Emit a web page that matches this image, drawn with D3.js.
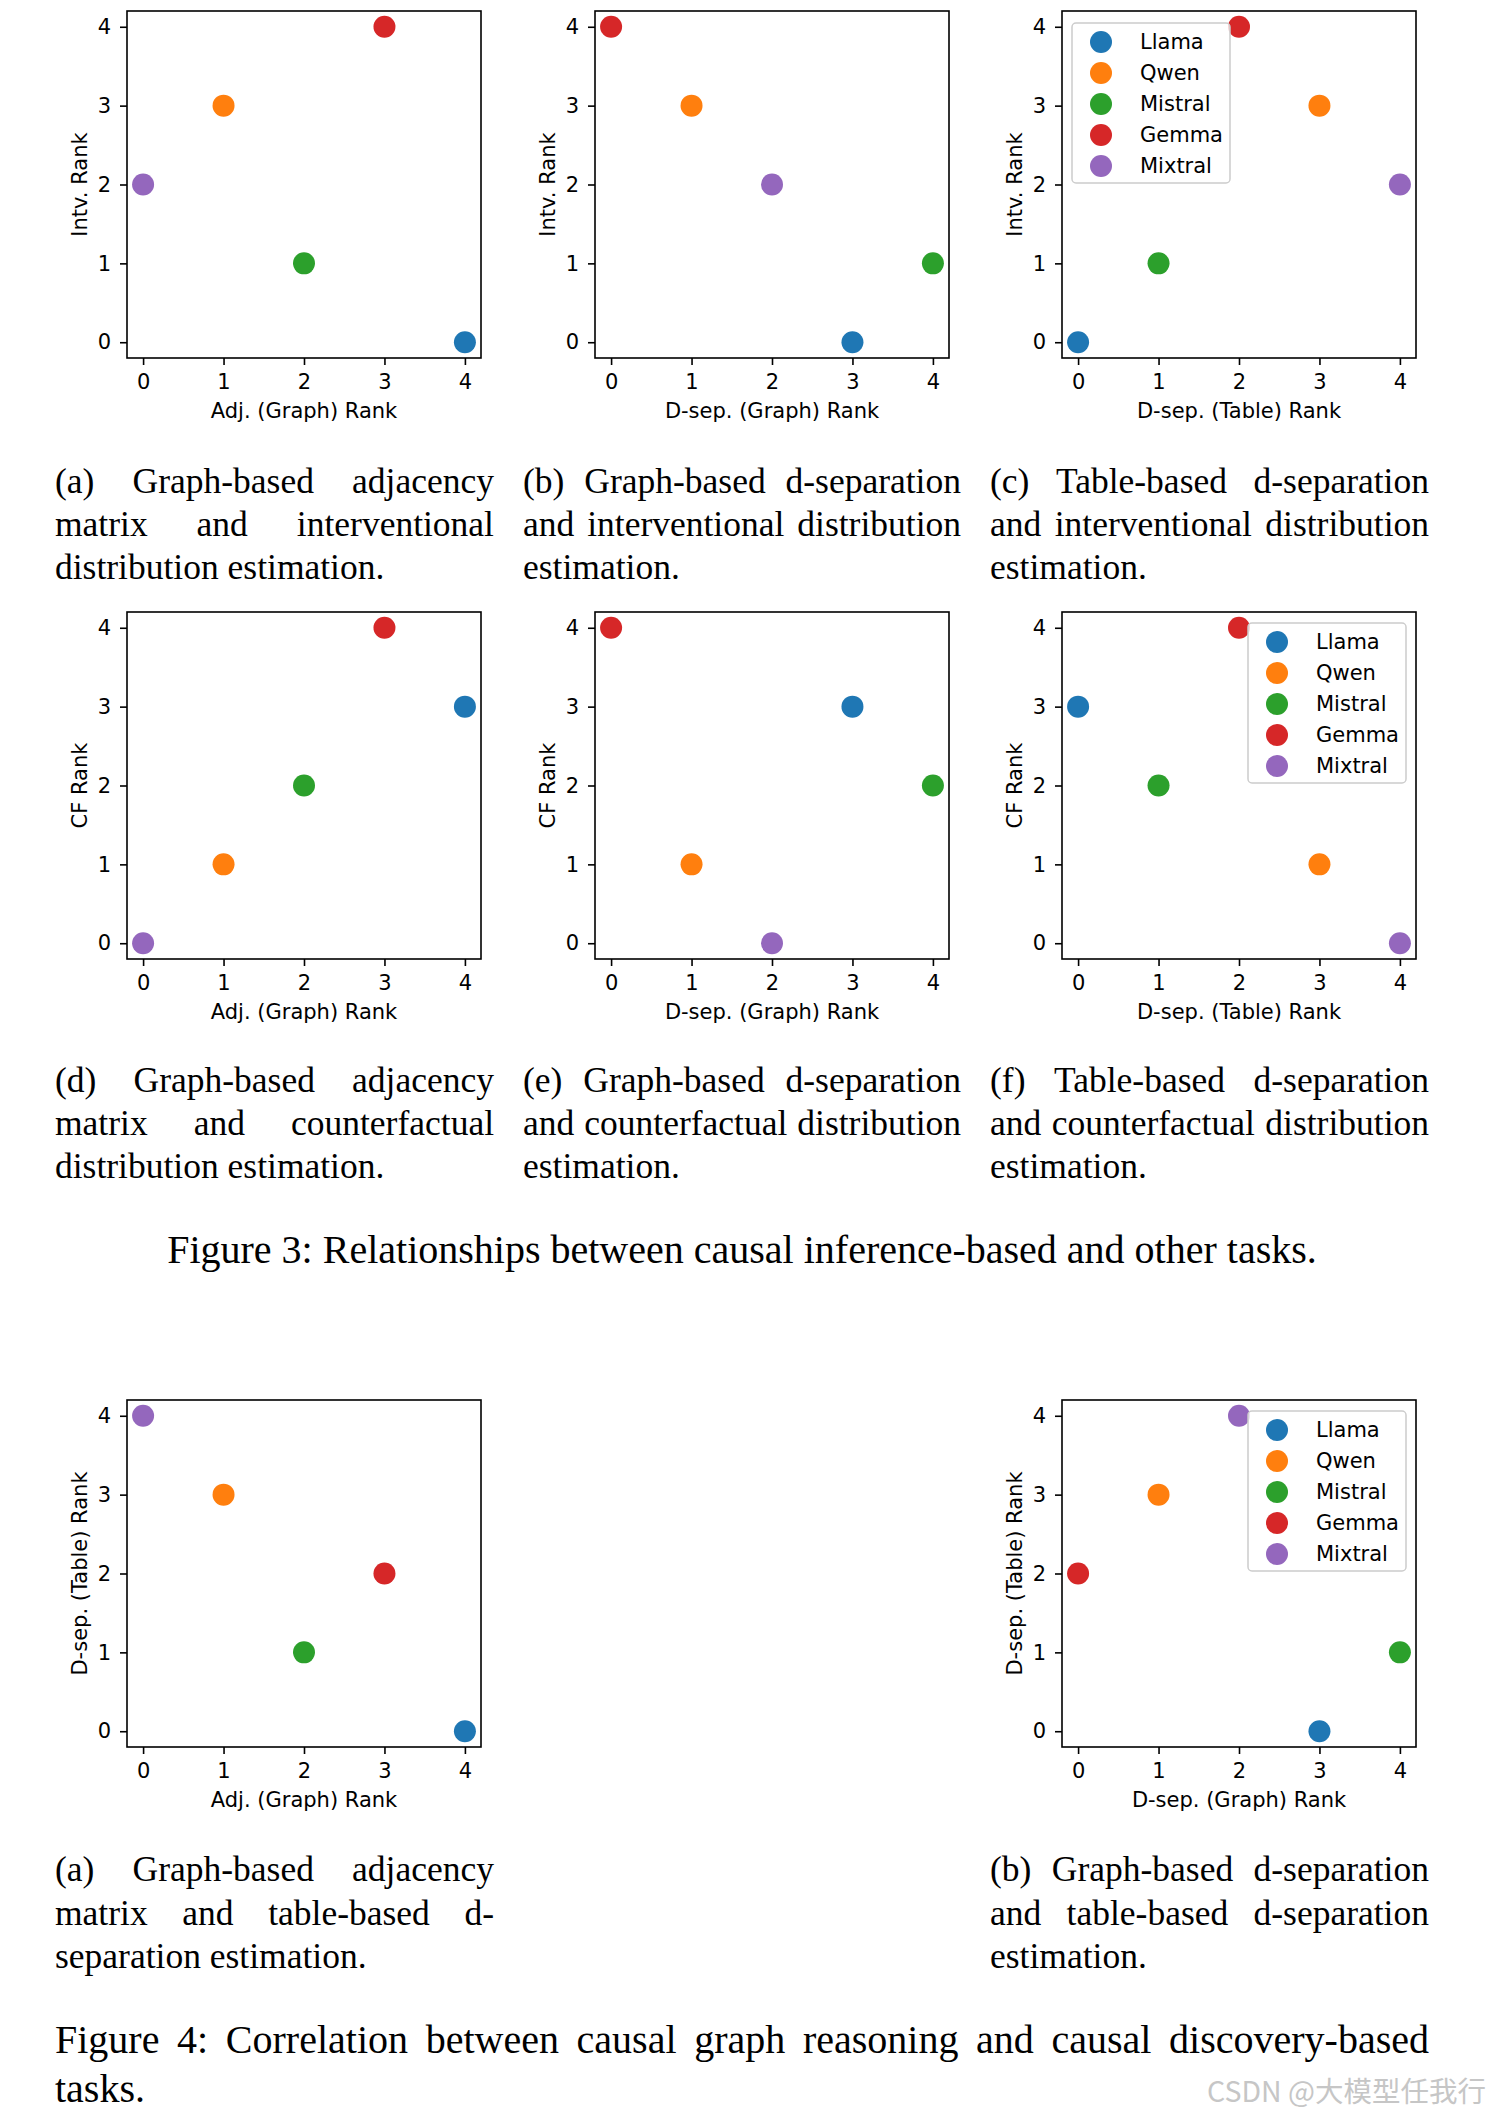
<!DOCTYPE html>
<html>
<head>
<meta charset="utf-8">
<script src="https://cdn.jsdelivr.net/npm/d3@7/dist/d3.min.js"></script>
<style>
  body { margin: 0; background: #fff; }
  svg { display: block; }
</style>
</head>
<body>
<div id="fig"></div>
<script>
// ---- data ----
const models = ["Llama", "Qwen", "Mistral", "Gemma", "Mixtral"];
const colors = ["#1f77b4", "#ff7f0e", "#2ca02c", "#d62728", "#9467bd"];
const rankTicks = [0, 1, 2, 3, 4];

const adjGraphRank = [4, 1, 2, 3, 0];
const dsepGraphRank = [3, 1, 4, 0, 2];
const dsepTableRank = [0, 3, 1, 2, 4];
const intvRank = [0, 3, 1, 4, 2];
const cfRank = [3, 1, 2, 4, 0];

const captionA1 = ["(a) Graph-based adjacency", "matrix and interventional", "distribution estimation."];
const captionB1 = ["(b) Graph-based d-separation", "and interventional distribution", "estimation."];
const captionC1 = ["(c) Table-based d-separation", "and interventional distribution", "estimation."];
const captionD2 = ["(d) Graph-based adjacency", "matrix and counterfactual", "distribution estimation."];
const captionE2 = ["(e) Graph-based d-separation", "and counterfactual distribution", "estimation."];
const captionF2 = ["(f) Table-based d-separation", "and counterfactual distribution", "estimation."];
const captionA3 = ["(a) Graph-based adjacency", "matrix and table-based d-", "separation estimation."];
const captionB3 = ["(b) Graph-based d-separation", "and table-based d-separation", "estimation."];
const figure3Caption = "Figure 3: Relationships between causal inference-based and other tasks.";
const figure4Caption = ["Figure 4: Correlation between causal graph reasoning and causal discovery-based", "tasks."];
const watermark = "CSDN @大模型任我行";

// ---- layout ----
const W = 1489, H = 2118;
const plotW = 354, plotH = 347;
const colLeft = [127, 595, 1062];
const rowTop = [11, 612, 1400];
const capCol = [[55, 494], [523, 961], [990, 1429]];
const SANS = "'DejaVu Sans', sans-serif";
const SERIF = "'Liberation Serif', 'Times New Roman', serif";
const sansSize = 21;
const subCapSize = 35.5;
const figCapSize = 40;

const svg = d3.select("#fig").append("svg")
  .attr("width", W).attr("height", H)
  .attr("viewBox", [0, 0, W, H]);
svg.append("rect").attr("width", W).attr("height", H).attr("fill", "#fff");

const x = d3.scaleLinear().domain([-0.2, 4.2]).range([0, plotW]);
const y = d3.scaleLinear().domain([-0.2, 4.2]).range([plotH, 0]);

function scatter(left, top, xs, ys, xLabel, yLabel, legendPos) {
  const g = svg.append("g").attr("transform", `translate(${left},${top})`);

  const xAxis = g.append("g")
    .attr("transform", `translate(0,${plotH})`)
    .call(d3.axisBottom(x).tickValues(rankTicks).tickFormat(d3.format("d"))
      .tickSize(7).tickSizeOuter(0).tickPadding(9));
  const yAxis = g.append("g")
    .call(d3.axisLeft(y).tickValues(rankTicks).tickFormat(d3.format("d"))
      .tickSize(7).tickSizeOuter(0).tickPadding(9));
  [xAxis, yAxis].forEach(a => {
    a.select(".domain").remove();
    a.attr("font-family", SANS).attr("font-size", sansSize);
    a.selectAll("line").attr("stroke", "#000").attr("stroke-width", 1.6);
    a.selectAll("text").attr("fill", "#000");
  });

  g.append("rect")
    .attr("width", plotW).attr("height", plotH)
    .attr("fill", "none").attr("stroke", "#000").attr("stroke-width", 1.6);

  g.append("text")
    .attr("x", plotW / 2).attr("y", 407)
    .attr("text-anchor", "middle")
    .attr("font-family", SANS).attr("font-size", sansSize)
    .text(xLabel);

  // y label: baseline sits 40px left of the frame
  g.append("text")
    .attr("transform", `translate(-40,${plotH / 2}) rotate(-90)`)
    .attr("text-anchor", "middle")
    .attr("font-family", SANS).attr("font-size", sansSize)
    .text(yLabel);

  g.append("g").selectAll("circle")
    .data(models)
    .join("circle")
    .attr("cx", (d, i) => x(xs[i]))
    .attr("cy", (d, i) => y(ys[i]))
    .attr("r", 11)
    .attr("fill", (d, i) => colors[i]);

  if (legendPos) {
    const lw = 158, lh = 160;
    const lx = legendPos === "left" ? 10 : plotW - 10 - lw;
    const ly = legendPos === "left" ? 12 : 11;
    const lg = g.append("g").attr("transform", `translate(${lx},${ly})`);
    lg.append("rect")
      .attr("width", lw).attr("height", lh).attr("rx", 4)
      .attr("fill", "#fff").attr("fill-opacity", 0.8)
      .attr("stroke", "#cccccc").attr("stroke-width", 1.5);
    const item = lg.selectAll("g.item")
      .data(models)
      .join("g")
      .attr("class", "item")
      .attr("transform", (d, i) => `translate(0,${19 + i * 31})`);
    item.append("circle").attr("cx", 29).attr("r", 11).attr("fill", (d, i) => colors[i]);
    item.append("text")
      .attr("x", 68).attr("dy", "0.35em")
      .attr("font-family", SANS).attr("font-size", sansSize)
      .text(d => d);
  }
}

// ---- justified captions ----
const measurer = svg.append("text")
  .attr("font-family", SERIF).attr("visibility", "hidden");
function wordWidth(w, size) {
  measurer.attr("font-size", size).text(w);
  return measurer.node().getComputedTextLength();
}

function justifiedLines(lines, x0, x1, baseline, lineGap, size) {
  lines.forEach((line, li) => {
    const words = line.split(" ");
    const widths = words.map(w => wordWidth(w, size));
    const total = d3.sum(widths);
    const last = li === lines.length - 1;
    const gap = (!last && words.length > 1) ? (x1 - x0 - total) / (words.length - 1) : size * 0.25;
    let cx = x0;
    const t = svg.append("g");
    words.forEach((w, i) => {
      t.append("text")
        .attr("x", cx).attr("y", baseline + li * lineGap)
        .attr("font-family", SERIF).attr("font-size", size).attr("fill", "#000")
        .text(w);
      cx += widths[i] + gap;
    });
  });
}

// ---- Figure 3 ----
scatter(colLeft[0], rowTop[0], adjGraphRank, intvRank, "Adj. (Graph) Rank", "Intv. Rank");
scatter(colLeft[1], rowTop[0], dsepGraphRank, intvRank, "D-sep. (Graph) Rank", "Intv. Rank");
scatter(colLeft[2], rowTop[0], dsepTableRank, intvRank, "D-sep. (Table) Rank", "Intv. Rank", "left");

scatter(colLeft[0], rowTop[1], adjGraphRank, cfRank, "Adj. (Graph) Rank", "CF Rank");
scatter(colLeft[1], rowTop[1], dsepGraphRank, cfRank, "D-sep. (Graph) Rank", "CF Rank");
scatter(colLeft[2], rowTop[1], dsepTableRank, cfRank, "D-sep. (Table) Rank", "CF Rank", "right");

justifiedLines(captionA1, capCol[0][0], capCol[0][1], 493, 43, subCapSize);
justifiedLines(captionB1, capCol[1][0], capCol[1][1], 493, 43, subCapSize);
justifiedLines(captionC1, capCol[2][0], capCol[2][1], 493, 43, subCapSize);
justifiedLines(captionD2, capCol[0][0], capCol[0][1], 1092, 43, subCapSize);
justifiedLines(captionE2, capCol[1][0], capCol[1][1], 1092, 43, subCapSize);
justifiedLines(captionF2, capCol[2][0], capCol[2][1], 1092, 43, subCapSize);

svg.append("text")
  .attr("x", 742).attr("y", 1263)
  .attr("text-anchor", "middle")
  .attr("font-family", SERIF).attr("font-size", figCapSize)
  .text(figure3Caption);

// ---- Figure 4 ----
scatter(colLeft[0], rowTop[2], adjGraphRank, dsepTableRank, "Adj. (Graph) Rank", "D-sep. (Table) Rank");
scatter(colLeft[2], rowTop[2], dsepGraphRank, dsepTableRank, "D-sep. (Graph) Rank", "D-sep. (Table) Rank", "right");

justifiedLines(captionA3, capCol[0][0], capCol[0][1], 1881, 43.5, subCapSize);
justifiedLines(captionB3, capCol[2][0], capCol[2][1], 1881, 43.5, subCapSize);
justifiedLines(figure4Caption, 55, 1429, 2053, 49, figCapSize);

svg.append("text")
  .attr("x", 1486).attr("y", 2102)
  .attr("text-anchor", "end")
  .attr("font-family", "'Noto Sans CJK SC', 'Noto Sans', sans-serif")
  .attr("font-size", 28.5)
  .attr("fill", "#c6c6c6")
  .text(watermark);

measurer.remove();
</script>
</body>
</html>
